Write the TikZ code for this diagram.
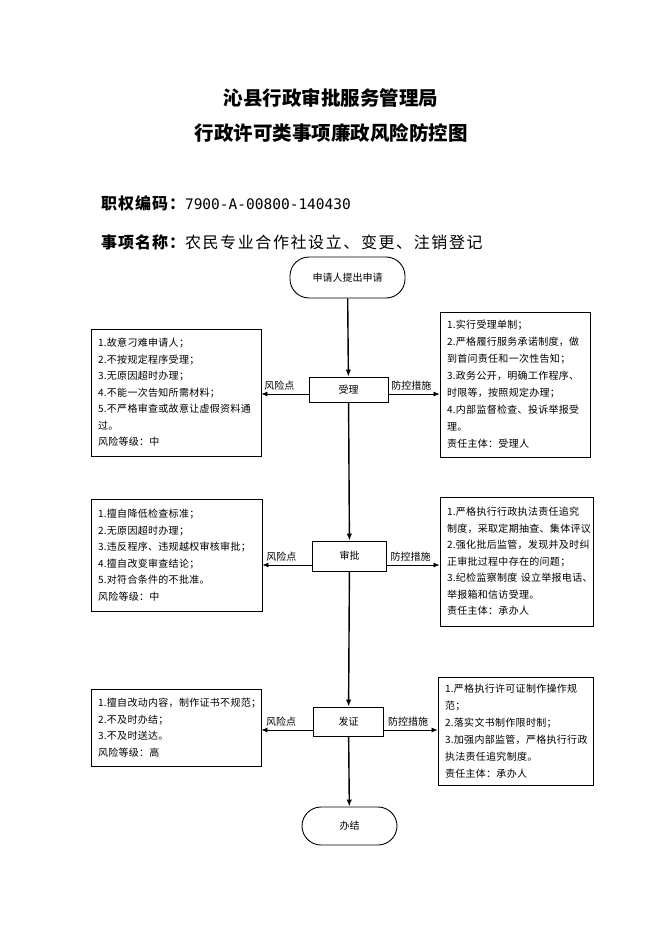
\documentclass[tikz,border=0pt]{standalone}
\usepackage{fontspec}
\setmainfont{Noto Sans CJK SC}
\newfontfamily\codefont{DejaVu Sans Mono}
\usetikzlibrary{arrows.meta}
\tikzstyle{box-step}=[draw, line width=0.9pt, font=\fontsize{10}{12}\selectfont]
\tikzstyle{box-end}=[draw, line width=0.9pt, rounded corners=19pt, font=\fontsize{10}{12}\selectfont]
\tikzstyle{box-risk}=[draw, line width=0.9pt, align=left, inner xsep=7pt, inner ysep=4pt, font=\fontsize{10}{16.5}\selectfont\addfontfeature{LetterSpace=3}]
\tikzstyle{flow}=[-{Latex[length=7pt,width=5.5pt]}, line width=1.4pt]
\tikzstyle{branch}=[-{Latex[length=6pt,width=5pt]}, line width=0.8pt]
\tikzstyle{tag}=[above, font=\fontsize{10}{12}\selectfont]

\begin{document}
\begin{tikzpicture}[x=1pt,y=-1pt]
	\useasboundingbox (0,0) rectangle (662,936);
	% titles
	 \node [font=\fontsize{19.5}{24}\selectfont\bfseries] (title1) at (331,98) {沁县行政审批服务管理局};
	 \node [font=\fontsize{19.5}{24}\selectfont\bfseries] (title2) at (331,133) {行政许可类事项廉政风险防控图};
	 \node [anchor=west, inner sep=0pt] (code) at (101,203) {{\fontsize{16}{20}\selectfont\bfseries\addfontfeature{LetterSpace=6}职权编码：}{\fontsize{14.5}{20}\codefont 7900-A-00800-140430}};
	 \node [anchor=west, inner sep=0pt] (item) at (101,242) {\fontsize{16}{20}\selectfont{\bfseries\addfontfeature{LetterSpace=6}事项名称：}{\addfontfeature{LetterSpace=10}农民专业合作社设立、变更、注销登记}};

	% nodes
	 \node [box-end, minimum width=115pt, minimum height=41pt] (start) at (347.5,277.5) {申请人提出申请};
	 \node [box-step, minimum width=79pt, minimum height=25pt] (sl) at (348.5,389.5) {受理};
	 \node [box-step, minimum width=74pt, minimum height=30pt] (sp) at (349.5,556) {审批};
	 \node [box-step, minimum width=70pt, minimum height=29pt] (fz) at (348.5,721.5) {发证};
	 \node [box-end, minimum width=95pt, minimum height=38pt] (bj) at (349.5,826) {办结};

	 \node [box-risk, text width=156pt, minimum height=127pt] (l1) at (176,392.5) {1.故意刁难申请人；\\2.不按规定程序受理；\\3.无原因超时办理；\\4.不能一次告知所需材料；\\5.不严格审查或故意让虚假资料通\\过。\\风险等级：中};
	 \node [box-risk, text width=136pt, minimum height=145pt, font=\fontsize{10}{17}\selectfont\addfontfeature{LetterSpace=3}] (r1) at (515,384.5) {1.实行受理单制；\\2.严格履行服务承诺制度，做\\到首问责任和一次性告知；\\3.政务公开，明确工作程序、\\时限等，按照规定办理；\\4.内部监督检查、投诉举报受\\理。\\责任主体：受理人};

	 \node [box-risk, text width=157pt, minimum height=112pt] (l2) at (176.5,555) {1.擅自降低检查标准；\\2.无原因超时办理；\\3.违反程序、违规越权审核审批；\\4.擅自改变审查结论；\\5.对符合条件的不批准。\\风险等级：中};
	 \node [box-risk, text width=139pt, minimum height=129pt] (r2) at (516.5,561.5) {1.严格执行行政执法责任追究\\制度，采取定期抽查、集体评议\\2.强化批后监管，发现并及时纠\\正审批过程中存在的问题；\\3.纪检监察制度~设立举报电话、\\举报箱和信访受理。\\责任主体：承办人};

	 \node [box-risk, text width=156pt, minimum height=77pt] (l3) at (176,727.5) {1.擅自改动内容，制作证书不规范；\\2.不及时办结；\\3.不及时送达。\\风险等级：高};
	 \node [box-risk, text width=141pt, minimum height=108pt, font=\fontsize{10}{17}\selectfont\addfontfeature{LetterSpace=3}] (r3) at (515.5,731) {1.严格执行许可证制作操作规\\范；\\2.落实文书制作限时制；\\3.加强内部监管，严格执行行政\\执法责任追究制度。\\责任主体：承办人};

	% arrows
	 \draw [flow] (start) -- (sl);
	 \draw [flow] (sl) -- (sp);
	 \draw [flow] (sp) -- (fz);
	 \draw [flow] (fz) -- (bj);

	 \draw [branch] ([yshift=-4.5pt]sl.west) -- ([yshift=-4.5pt]sl.west -| l1.east) node [tag, pos=0.62] {风险点};
	 \draw [branch] ([yshift=-4.5pt]sl.east) -- ([yshift=-4.5pt]sl.east -| r1.west) node [tag, pos=0.45] {防控措施};
	 \draw [branch] ([yshift=-9pt]sp.west) -- ([yshift=-9pt]sp.west -| l2.east) node [tag, pos=0.62] {风险点};
	 \draw [branch] ([yshift=-9pt]sp.east) -- ([yshift=-9pt]sp.east -| r2.west) node [tag, pos=0.45] {防控措施};
	 \draw [branch] ([yshift=-8.5pt]fz.west) -- ([yshift=-8.5pt]fz.west -| l3.east) node [tag, pos=0.62] {风险点};
	 \draw [branch] ([yshift=-8.5pt]fz.east) -- ([yshift=-8.5pt]fz.east -| r3.west) node [tag, pos=0.45] {防控措施};
\end{tikzpicture}
\end{document}
